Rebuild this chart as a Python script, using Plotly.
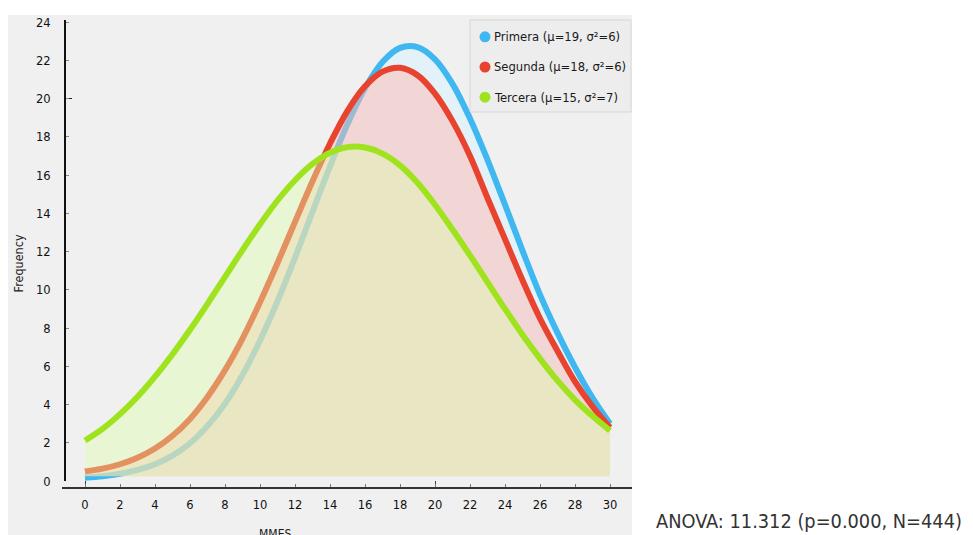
import plotly.graph_objects as go

# ---- data ----
x_vals = list(range(0, 31))
primera = [0.17, 0.25, 0.38, 0.58, 0.88, 1.33, 1.98, 2.88, 4.05, 5.55, 7.35,
           9.4, 11.68, 14.08, 16.45, 18.67, 20.54, 21.91, 22.65, 22.69, 22.05,
           20.77, 18.96, 16.8, 14.45, 12.05, 9.75, 7.75, 5.95, 4.35, 3.0]
segunda = [0.5, 0.65, 0.88, 1.22, 1.7, 2.37, 3.25, 4.4, 5.8, 7.45, 9.35,
           11.4, 13.55, 15.68, 17.65, 19.36, 20.64, 21.41, 21.61, 21.22, 20.26,
           18.82, 17.0, 14.8, 12.65, 10.5, 8.5, 6.8, 5.2, 3.9, 2.8]
tercera = [2.12, 2.73, 3.5, 4.41, 5.46, 6.63, 7.91, 9.27, 10.68, 12.08, 13.43,
           14.67, 15.73, 16.58, 17.17, 17.46, 17.44, 17.12, 16.51, 15.6, 14.45,
           13.15, 11.8, 10.4, 9.0, 7.65, 6.4, 5.25, 4.25, 3.4, 2.64]
fill_base = 0.25
series_names = ["Primera (μ=19, σ²=6)", "Segunda (μ=18, σ²=6)", "Tercera (μ=15, σ²=7)"]
y_ticks = list(range(0, 25, 2))
x_ticks = list(range(0, 31, 2))
x_title = "MMES"
y_title = "Frequency"
anova_text = "ANOVA: 11.312 (p=0.000, N=444)"

line_colors = ["#3fb7f0", "#e8432e", "#9fe31e"]
fill_colors = ["rgba(217,242,255,0.55)", "rgba(255,187,178,0.5)", "rgba(222,255,172,0.42)"]

FONT = "DejaVu Sans Condensed, DejaVu Sans, sans-serif"

fig = go.Figure()
for name, ys, lc, fc in zip(series_names, [primera, segunda, tercera], line_colors, fill_colors):
    fig.add_trace(go.Scatter(x=x_vals, y=[fill_base] * len(x_vals), mode="lines",
                             line=dict(width=0, color="rgba(0,0,0,0)"),
                             hoverinfo="skip", showlegend=False))
    fig.add_trace(go.Scatter(x=x_vals, y=ys, mode="lines", name=name,
                             line=dict(color=lc, width=6, shape="spline"),
                             fill="tonexty", fillcolor=fc, showlegend=False))

# page offset (body margin) and plot area geometry in screen pixels
OFF = 8
L, R, T, B = 62, 632, 15, 488
W, H = 973 - OFF, 535 - OFF
pw, ph = R - L, B - T


def px_x(p):
    return (p - L) / pw


def px_y(p):
    return (B - p) / ph


shapes = [
    dict(type="rect", xref="paper", yref="paper", x0=px_x(8), x1=px_x(632),
         y0=px_y(540), y1=px_y(10), fillcolor="#f0f0f0", line=dict(width=0), layer="below"),
    dict(type="rect", xref="paper", yref="paper", x0=px_x(470), x1=px_x(631),
         y0=px_y(108), y1=px_y(15), fillcolor="#ededed", line=dict(width=1, color="#d6d6d6"),
         layer="above"),
]
annotations = []
row_y = [32, 62.5, 93]
for name, lc, ry in zip(series_names, line_colors, row_y):
    shapes.append(dict(type="circle", xref="paper", yref="paper",
                       xsizemode="pixel", ysizemode="pixel",
                       xanchor=px_x(485), yanchor=px_y(ry), x0=-5.5, x1=5.5, y0=-5.5, y1=5.5,
                       fillcolor=lc, line=dict(width=0), layer="above"))
    annotations.append(dict(text=name, xref="paper", yref="paper", x=px_x(492), y=px_y(ry),
                            xanchor="left", yanchor="middle", showarrow=False,
                            font=dict(family=FONT, size=12.9, color="#1a1a1a")))

annotations.append(dict(text=y_title, xref="paper", yref="paper", x=px_x(18), y=px_y(261),
                        xanchor="center", yanchor="middle", textangle=-90, showarrow=False,
                        font=dict(family=FONT, size=12.5, color="#1a1a1a")))
annotations.append(dict(text=x_title, xref="paper", yref="paper", x=px_x(275), y=px_y(525),
                        xanchor="center", yanchor="top", showarrow=False,
                        font=dict(family=FONT, size=12, color="#1a1a1a")))
annotations.append(dict(text=anova_text, xref="paper", yref="paper", x=px_x(654), y=px_y(522),
                        xanchor="left", yanchor="middle", showarrow=False,
                        font=dict(family=FONT, size=19.8, color="#333")))

fig.update_layout(
    width=W, height=H,
    margin=dict(l=L - OFF, r=W - (R - OFF), t=T - OFF, b=H - (B - OFF), pad=0),
    paper_bgcolor="white", plot_bgcolor="rgba(0,0,0,0)",
    shapes=shapes, annotations=annotations, showlegend=False,
    xaxis=dict(range=[(L - 85) / 17.5, (R - 85) / 17.5], anchor="free", position=0,
               tickmode="array", tickvals=x_ticks, ticks="inside", ticklen=3,
               tickcolor="#777", tickwidth=1, showline=True, linecolor="#333", linewidth=1.5,
               showgrid=False, zeroline=False, ticklabelstandoff=5,
               tickfont=dict(family=FONT, size=12.8, color="#111"),
               minor=dict(tickmode="array", tickvals=[0, 20], ticks="inside", ticklen=6,
                          tickcolor="#444", tickwidth=1, showgrid=False)),
    yaxis=dict(range=[0, (481 - T) / 19.33], domain=[(B - 481) / ph, 1], anchor="free",
               position=(65 - L) / pw,
               tickmode="array", tickvals=y_ticks, ticks="inside", ticklen=3,
               tickcolor="#888", tickwidth=1, showline=True, linecolor="#111", linewidth=1.5,
               showgrid=False, zeroline=False, ticklabelstandoff=11,
               tickfont=dict(family=FONT, size=12.8, color="#111"),
               minor=dict(tickmode="array", tickvals=[0, 20], ticks="inside", ticklen=6,
                          tickcolor="#222", tickwidth=1.2, showgrid=False)),
)

fig.write_html("out.html")
